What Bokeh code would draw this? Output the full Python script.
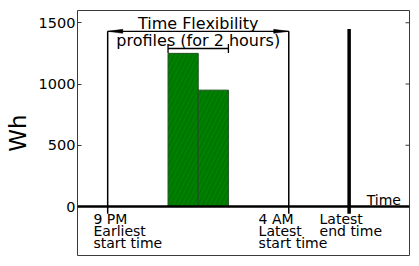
import numpy as np
from bokeh.plotting import figure
from bokeh.models import Range1d, FixedTicker, Span, Arrow, TeeHead
from bokeh.core.properties import value
from bokeh.embed import file_html
from bokeh.resources import INLINE

# ---- data ----
y_ticks = [0, 500, 1000, 1500]
bar_left = [3, 4]
bar_right = [4, 5]
bar_heights = [1250, 950]
marker_x = [1, 7]
marker_top = [1430, 1430]
marker_bottom = [-60, -60]
end_x = [9]
end_top = [1450]
end_bottom = [-60]
window_arrow_x = [1, 7]
window_arrow_y = 1430
profile_arrow_x = [3, 5]
profile_arrow_y = 1290
title_lines = ["Time Flexibility", "profiles (for 2 hours)"]
title_x = 4
title_y = [1494, 1359]
label_x = [0.53, 6.0, 8.02]
label_text = ["9 PM\nEarliest\nstart time", "4 AM\nLatest\nstart time", "Latest\nend time"]
label_y0 = -106
label_step = 98
time_label = "Time"
time_x = 9.58
time_y = 49
ylabel = "Wh"

FONT = "DejaVu Sans"
SPINE = "#3a3a3a"

p = figure(width=411, height=258, x_range=Range1d(0, 11), y_range=Range1d(-400, 1600),
           x_axis_type=None, output_backend="svg", toolbar_location=None,
           min_border_left=77, min_border_right=2, min_border_top=10, min_border_bottom=3)
p.grid.visible = False
p.outline_line_color = SPINE
p.outline_line_width = 1
p.background_fill_color = "white"
p.border_fill_color = "white"

ya = p.yaxis[0]
ya.ticker = FixedTicker(ticks=y_ticks)
ya.major_tick_in = 4
ya.major_tick_out = 0
ya.minor_tick_in = 0
ya.minor_tick_out = 0
ya.axis_line_color = None
ya.major_tick_line_color = SPINE
ya.major_label_text_font = FONT
ya.major_label_text_font_size = "14.5px"
ya.major_label_text_color = "black"
ya.major_label_standoff = 2
ya.axis_label = ylabel
ya.axis_label_text_font = FONT
ya.axis_label_text_font_size = "23px"
ya.axis_label_text_font_style = "normal"
ya.axis_label_text_color = "black"
ya.axis_label_standoff = 5

# right-side ticks
p.ray(x=[11] * len(y_ticks), y=y_ticks, length=4, length_units="screen", angle=np.pi,
      line_color=SPINE, line_width=1)

# bars
p.quad(left=bar_left, right=bar_right, bottom=0, top=bar_heights,
       fill_color="#008000", line_color="#1f4f1f", line_width=1,
       hatch_pattern="/", hatch_color="#006000", hatch_scale=9, hatch_weight=0.6)

# zero line
p.add_layout(Span(location=0, dimension="width", line_color="black", line_width=2.5))

# vertical markers
p.segment(x0=marker_x, y0=marker_bottom, x1=marker_x, y1=marker_top,
          line_color="black", line_width=1.5)
p.segment(x0=end_x, y0=end_bottom, x1=end_x, y1=end_top,
          line_color="black", line_width=3.5)

# window arrow (<->)
p.segment(x0=[window_arrow_x[0]], y0=[window_arrow_y], x1=[window_arrow_x[1]], y1=[window_arrow_y],
          line_color="black", line_width=1.3)
hl, hw = 0.5, 16
xs = [[window_arrow_x[0], window_arrow_x[0] + hl, window_arrow_x[0] + hl],
      [window_arrow_x[1], window_arrow_x[1] - hl, window_arrow_x[1] - hl]]
ys = [[window_arrow_y, window_arrow_y + hw, window_arrow_y - hw]] * 2
p.patches(xs=xs, ys=ys, fill_color="black", line_color="black", line_width=0.5)

# profile arrow (|-|)
p.add_layout(Arrow(x_start=profile_arrow_x[0], y_start=profile_arrow_y,
                   x_end=profile_arrow_x[1], y_end=profile_arrow_y,
                   start=TeeHead(size=9, line_width=1.3), end=TeeHead(size=9, line_width=1.3),
                   line_width=1.3, line_color="black"))

# title
p.text(x=[title_x] * len(title_lines), y=title_y, text=title_lines,
       text_align="center", text_baseline="alphabetic",
       text_font=value(FONT), text_font_size="16px", text_color="black")

# bottom labels
lx, ly, lt = [], [], []
for x, t in zip(label_x, label_text):
    for i, line in enumerate(t.split("\n")):
        lx.append(x)
        ly.append(label_y0 - i * label_step)
        lt.append(line)
p.text(x=lx, y=ly, text=lt, text_align="left", text_baseline="alphabetic",
       text_font=value(FONT), text_font_size="14px", text_color="black")

p.text(x=[time_x], y=[time_y], text=[time_label], text_align="left", text_baseline="alphabetic",
       text_font=value(FONT), text_font_size="14px", text_color="black")

open("out.html", "w").write(file_html(p, INLINE))
